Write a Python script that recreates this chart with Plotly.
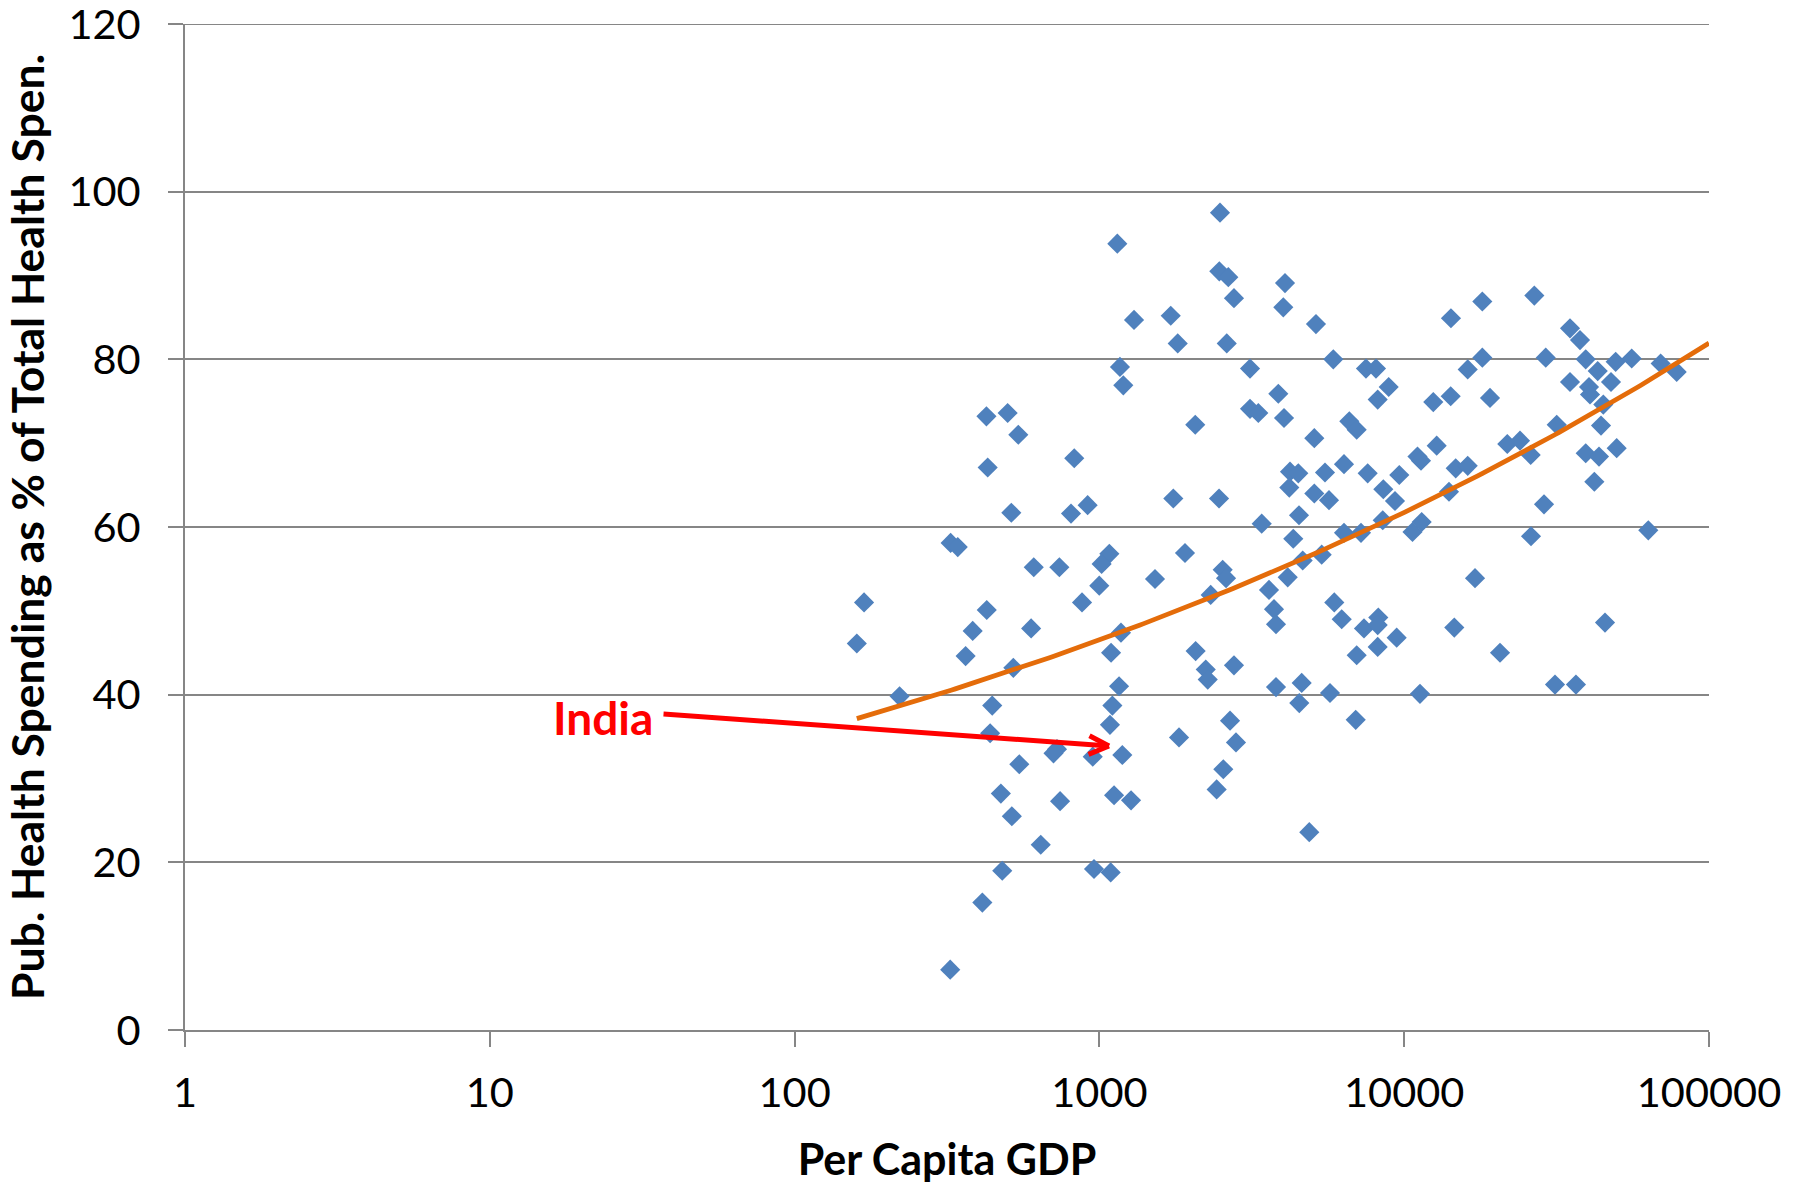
import numpy as np
import plotly.graph_objects as go

# ---- Data ----
gdp_per_capita = [
    1145, 1299, 1168, 1198, 426, 500, 542, 430, 827, 514, 807, 915, 325, 343, 609, 739, 1078, 1017, 999,
    2487, 2474, 2648, 4064, 2764, 4012, 1714, 1807, 2617, 5135, 3120, 5853, 7492, 8080, 8895, 8186, 3864,
    3120, 3322, 4034, 2063, 5071, 6605, 6985, 11055, 11352, 4220, 4493, 4198, 5498, 6346, 7589, 9636, 8541,
    9328, 5071, 5666, 1748, 2469, 4517, 3408, 8503, 10646, 11413, 6346, 7215, 4326, 1909, 4645, 5362, 2538,
    2603, 4148, 1522, 3601, 2318,
    18044, 26727, 14237, 34995, 37740, 18044, 29131, 16157, 39405, 43140, 49410, 55774, 69400, 78343, 34995,
    47695, 40399, 40704, 44999, 12458, 14207, 19120, 31651, 44228, 12782, 21788, 23986, 26003, 39405, 43561,
    49785, 14756, 16157, 14028, 42055, 28758, 26062, 63215, 17076,
    160, 169, 427, 384, 364, 597, 877, 1177, 1092, 522, 1160, 221, 445, 1103, 1083, 438, 726, 707, 951, 1189,
    546, 475, 516, 743, 1117, 1270, 642, 480, 960, 1089, 413, 324,
    3740, 3797, 5897, 6237, 7380, 8222, 8186, 9448, 8186, 6985, 2069, 2233, 2267, 2764, 3797, 4610, 4527,
    5709, 11266, 2683, 6933, 1825, 2806, 2550, 2425, 4882,
    14600, 20625, 45584, 31246, 36604,
]
pub_health_share = [
    93.8, 84.7, 79.1, 76.9, 73.2, 73.6, 71.0, 67.1, 68.2, 61.7, 61.6, 62.6, 58.1, 57.6, 55.2, 55.2, 56.8, 55.6, 53.0,
    97.5, 90.5, 89.8, 89.1, 87.3, 86.2, 85.2, 81.9, 81.9, 84.2, 78.9, 80.0, 78.9, 78.9, 76.7, 75.2, 75.9,
    74.1, 73.6, 73.0, 72.2, 70.6, 72.6, 71.6, 68.4, 67.9, 66.6, 66.4, 64.7, 66.5, 67.5, 66.4, 66.2, 64.5,
    63.1, 64.0, 63.2, 63.4, 63.4, 61.4, 60.4, 60.8, 59.4, 60.6, 59.3, 59.3, 58.6, 56.9, 56.0, 56.7, 54.9,
    53.9, 54.0, 53.8, 52.5, 51.9,
    86.9, 87.6, 84.9, 83.7, 82.3, 80.2, 80.2, 78.8, 80.0, 78.6, 79.7, 80.1, 79.5, 78.5, 77.3,
    77.3, 76.7, 75.8, 74.6, 74.9, 75.6, 75.4, 72.2, 72.1, 69.7, 69.9, 70.3, 68.6, 68.8, 68.4,
    69.4, 67.0, 67.3, 64.2, 65.4, 62.7, 58.9, 59.6, 53.9,
    46.1, 51.0, 50.1, 47.6, 44.6, 47.9, 51.0, 47.4, 45.0, 43.2, 41.0, 39.8, 38.7, 38.7, 36.4, 35.4, 33.5, 33.0, 32.6, 32.8,
    31.7, 28.2, 25.5, 27.3, 28.0, 27.4, 22.1, 19.0, 19.2, 18.8, 15.2, 7.2,
    50.2, 48.4, 51.0, 49.0, 47.9, 49.2, 48.3, 46.8, 45.7, 44.7, 45.2, 43.0, 41.8, 43.5, 40.9, 41.4, 39.0,
    40.2, 40.1, 36.9, 37.0, 34.9, 34.3, 31.1, 28.7, 23.6,
    48.0, 45.0, 48.6, 41.2, 41.2,
]
x_tick_vals = [1, 10, 100, 1000, 10000, 100000]
x_tick_text = ["1", "10", "100", "1000", "10000", "100000"]
y_tick_vals = [0, 20, 40, 60, 80, 100, 120]
y_max = 120
trend_x_end = 100000
highlight_label = "India"

# ---- Power trendline (least squares on logs, as a spreadsheet does) ----
gdp = np.array(gdp_per_capita, dtype=float)
share = np.array(pub_health_share, dtype=float)
b, ln_a = np.polyfit(np.log(gdp), np.log(share), 1)
trend_x = np.logspace(np.log10(gdp.min()), np.log10(trend_x_end), 200)
trend_y = np.exp(ln_a) * trend_x ** b

GRID = "#868686"
FONT = "Lato"

fig = go.Figure()
fig.add_trace(go.Scatter(
    x=gdp, y=share, mode="markers",
    marker=dict(symbol="diamond", size=15.5, color="#4F81BD", line=dict(width=0)),
    showlegend=False, hoverinfo="x+y",
))
fig.add_trace(go.Scatter(
    x=trend_x, y=trend_y, mode="lines",
    line=dict(color="#E46C0A", width=4.8),
    showlegend=False, hoverinfo="skip",
))

fig.update_layout(
    width=1805, height=1185,
    margin=dict(l=185, r=96, t=24, b=155),
    paper_bgcolor="white", plot_bgcolor="white",
    font=dict(family=FONT, color="black"),
    showlegend=False,
)
fig.update_xaxes(
    type="log", range=[0, 5], automargin=False,
    tickmode="array", tickvals=x_tick_vals, ticktext=x_tick_text,
    showgrid=False, zeroline=False,
    showline=True, linecolor=GRID, linewidth=2,
    ticks="outside", ticklen=15, tickwidth=2, tickcolor=GRID,
    tickfont=dict(family=FONT, size=41.5, color="black"),
    ticklabelstandoff=10,
    title=dict(text="<b>Per Capita GDP</b>", font=dict(family=FONT, size=43, color="black"), standoff=30),
)
fig.update_yaxes(
    range=[0, y_max], automargin=False,
    tickmode="array", tickvals=y_tick_vals,
    showgrid=True, gridcolor=GRID, gridwidth=2,
    zeroline=False,
    showline=True, linecolor=GRID, linewidth=2,
    ticks="outside", ticklen=15, tickwidth=2, tickcolor=GRID,
    tickfont=dict(family=FONT, size=41.5, color="black"),
    ticklabelstandoff=19, ticklabeloverflow="allow",
    title=dict(text="<b>Pub. Health Spending as % of Total Health Spen.</b>",
               font=dict(family=FONT, size=44.5, color="black"), standoff=16),
)

# top gridline (plotly drops the grid line on the plot edge)
fig.add_shape(type="line", xref="paper", x0=0, x1=1, yref="y", y0=y_max, y1=y_max,
              line=dict(color=GRID, width=2), layer="below")

# India callout: label plus arrow (positions in axis units; x in log10 units)
tip_x, tip_y = 3.0315, 33.88
fig.add_annotation(
    x=tip_x, y=tip_y, ax=1.565, ay=37.70, xref="x", yref="y", axref="x", ayref="y",
    text="", showarrow=True, arrowhead=0, arrowwidth=5, arrowcolor="#FF0000",
)
for dx, dy in [(-21, -11), (-22, 9)]:
    fig.add_annotation(
        x=tip_x, y=tip_y, ax=dx, ay=dy, xref="x", yref="y",
        text="", showarrow=True, arrowhead=0, arrowwidth=5, arrowcolor="#FF0000",
    )
fig.add_annotation(
    x=1.3714, y=37.3, xref="x", yref="y", text="<b>" + highlight_label + "</b>",
    showarrow=False, xanchor="center", yanchor="middle",
    font=dict(family=FONT, size=46, color="#FF0000"),
)

fig.write_html("out.html")
